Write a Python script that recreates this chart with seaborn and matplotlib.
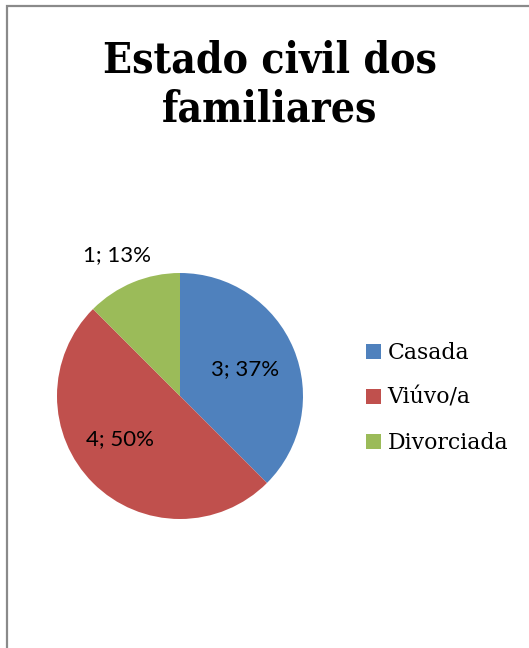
import matplotlib
matplotlib.use("Agg")
import matplotlib.pyplot as plt
import matplotlib.patches as mpatches
import numpy as np
import seaborn as sns

# Marital status of family members
categories = ["Casada", "Viúvo/a", "Divorciada"]
counts = [3, 4, 1]
pct_labels = ["37%", "50%", "13%"]
title = "Estado civil dos\nfamiliares"

sns.set_theme(style="white")
plt.rcParams["font.family"] = ["DejaVu Sans"]
plt.rcParams["text.color"] = "black"

colors = ["#4F81BD", "#C0504D", "#9BBB59"]

W, H = 529, 648
fig = plt.figure(figsize=(W / 100, H / 100), dpi=100)
fig.patch.set_facecolor("white")

# chart-area frame (runs off the right and bottom edges)
frame = mpatches.Rectangle((6.5 / W, -0.1), 1.2, 1 - 5.5 / H + 0.1,
                           transform=fig.transFigure, fill=False,
                           edgecolor="#8A8A8A", linewidth=1.6)
fig.patches.append(frame)

fig.text(270 / W, 1 - 85 / H, title, ha="center", va="center",
         fontsize=30.5, fontweight="bold", family="DejaVu Serif",
         fontstretch="condensed", linespacing=1.2, color="black")

cx, cy, r = 180, 396, 123
ax = fig.add_axes([(cx - r) / W, (H - cy - r) / H, 2 * r / W, 2 * r / H])
wedges, _ = ax.pie(counts, colors=colors, startangle=90, counterclock=False,
                   wedgeprops=dict(linewidth=0))
ax.set_xlim(-1, 1)
ax.set_ylim(-1, 1)
ax.set_aspect("equal")
ax.axis("off")

# data labels: "value; percent", placed along each wedge's middle angle
label_radius = [0.57, 0.60, 1.25]
angle_shift = [0, -9, 1.5]
for w, n, p, lr, da in zip(wedges, counts, pct_labels, label_radius, angle_shift):
    mid = np.deg2rad((w.theta1 + w.theta2) / 2 + da)
    ax.text(lr * np.cos(mid), lr * np.sin(mid), f"{n}; {p}",
            ha="center", va="center", fontsize=16, family="Lato",
            color="black", clip_on=False)

handles = [mpatches.Patch(facecolor=c, edgecolor="none") for c in colors]
leg = fig.legend(handles, categories, loc="center left",
                 bbox_to_anchor=(366 / W, 1 - 398 / H), frameon=False,
                 prop=dict(family="DejaVu Serif", size=15.8),
                 handlelength=0.68, handleheight=0.68, handletextpad=0.3,
                 labelspacing=1.05, borderaxespad=0, borderpad=0)
for t in leg.get_texts():
    t.set_color("black")

fig.savefig("out.png", dpi=100, facecolor="white")
